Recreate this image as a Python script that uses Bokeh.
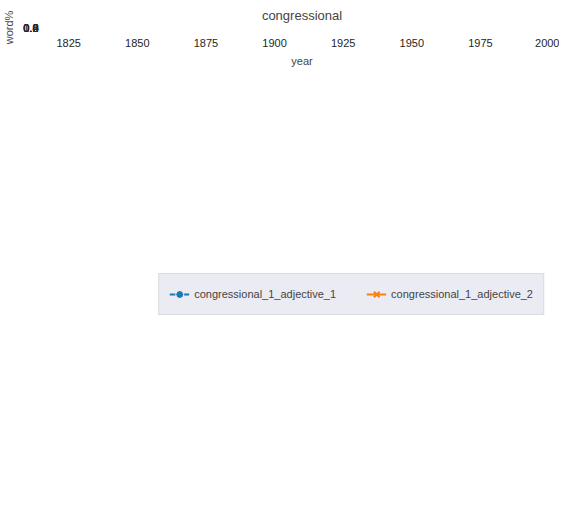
from bokeh.plotting import figure
from bokeh.models import Legend, Range1d, CustomJSTickFormatter
from bokeh.embed import file_html
from bokeh.resources import INLINE

years = [1820, 1830, 1840, 1850, 1860, 1870, 1880, 1890, 1900, 1910,
         1920, 1930, 1940, 1950, 1960, 1970, 1980, 1990, 2000]
adj1 = [1.0, 0.93, 0.978, 0.955, 0.973, 0.975, 0.972, 0.985, 0.993, 0.995,
        0.993, 0.99, 0.975, 0.965, 0.98, 0.975, 0.955, 0.91, 0.93]
years2 = years[1:]
adj2 = [0.07, 0.022, 0.045, 0.027, 0.025, 0.028, 0.015, 0.007, 0.005,
        0.007, 0.01, 0.025, 0.035, 0.02, 0.025, 0.045, 0.088, 0.068]

p = figure(width=559, height=499, output_backend="svg", toolbar_location=None,
           title="congressional", x_range=Range1d(1818, 2002), y_range=Range1d(-0.05, 1.05))
p.title.align = "center"
p.title.text_font = "Arial"
p.title.text_font_style = "normal"
p.title.text_font_size = "13px"
p.background_fill_color = "#EAEAF2"
p.outline_line_color = None
p.grid.grid_line_color = "white"
p.axis.axis_line_color = None
p.axis.major_tick_line_color = None
p.axis.minor_tick_line_color = None
p.axis.major_label_text_font_size = "11px"
p.axis.axis_label_text_font_size = "11px"
p.axis.axis_label_text_font_style = "normal"
p.axis.major_label_text_color = "#262626"
p.xaxis.axis_label = "year"
p.yaxis.axis_label = "word%"
p.xaxis.ticker = [1825, 1850, 1875, 1900, 1925, 1950, 1975, 2000]
p.yaxis.ticker = [0.0, 0.2, 0.4, 0.6, 0.8, 1.0]
p.yaxis.formatter = CustomJSTickFormatter(code="return tick.toFixed(1);")

l1 = p.line(years, adj1, color="#1f77b4", line_width=1.8)
m1 = p.scatter(years, adj1, size=7, color="#1f77b4", line_color="white")
l2 = p.line(years2, adj2, color="#ff7f0e", line_width=1.8)
m2 = p.scatter(years2, adj2, marker="x", size=6, color="#ff7f0e", line_width=2)

leg = Legend(items=[("congressional_1_adjective_1", [l1, m1]),
                    ("congressional_1_adjective_2", [l2, m2])],
             orientation="horizontal",
             label_text_font_size="11px", background_fill_color="#EAEAF2",
             border_line_color="#cccccc", spacing=30)
p.add_layout(leg, "below")

open("out.html", "w").write(file_html(p, INLINE))
